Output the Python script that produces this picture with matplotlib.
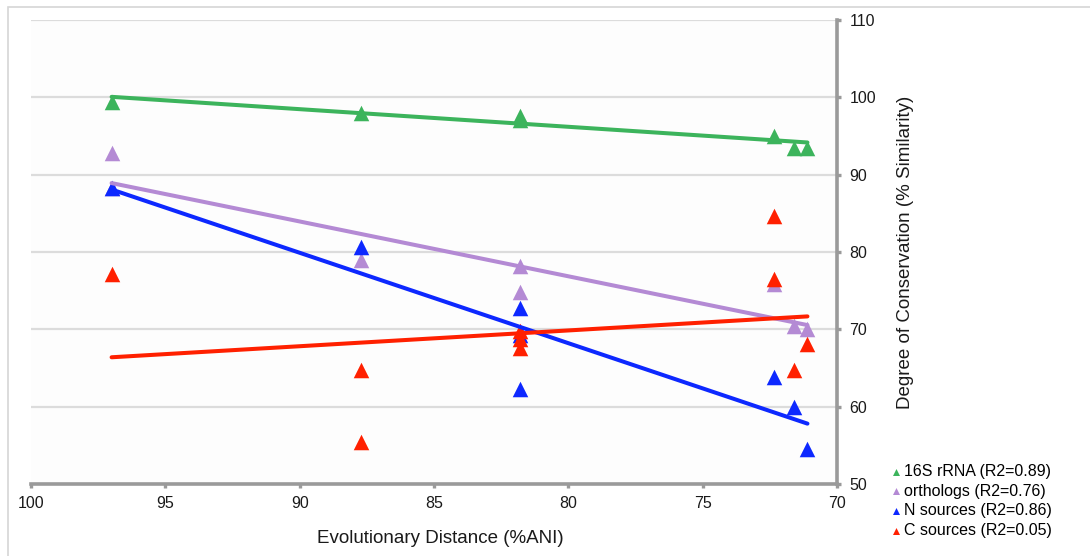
"""
plot.py — conservation vs evolutionary distance (ANI), with linear trendlines.
"""

import numpy as np
import matplotlib
matplotlib.use('Agg')
import matplotlib.pyplot as plt
from matplotlib.patches import Rectangle

plt.rcParams['font.family'] = ['Liberation Sans', 'DejaVu Sans']

# ── DATA ─────────────────────────────────────────────────────────────────────
rrna_x  = [97.0, 87.7, 81.8, 81.8, 72.35, 71.6, 71.1]
rrna_y  = [99.4, 98.0, 97.6, 97.1, 95.0, 93.5, 93.5]

# one ortholog point sits hidden under the blue marker at 97
orth_x  = [97.0, 97.0, 87.7, 81.8, 81.8, 72.35, 71.6, 71.1]
orth_y  = [92.8, 88.3, 79.0, 78.2, 74.8, 75.8, 70.4, 70.0]

nsrc_x  = [97.0, 87.7, 81.8, 81.8, 81.8, 72.35, 71.6, 71.1]
nsrc_y  = [88.3, 80.7, 72.8, 69.3, 62.3, 63.8, 60.0, 54.5]

csrc_x  = [97.0, 87.7, 87.7, 81.8, 81.8, 81.8, 72.35, 72.35, 71.6, 71.1]
csrc_y  = [77.1, 64.8, 55.4, 69.8, 68.7, 67.6, 84.7, 76.5, 64.8, 68.1]

labels  = ['16S rRNA (R2=0.89)', 'orthologs (R2=0.76)',
           'N sources (R2=0.86)', 'C sources (R2=0.05)']

x_ticks = [100, 95, 90, 85, 80, 75, 70]
y_ticks = [50, 60, 70, 80, 90, 100, 110]

# ── STYLE ────────────────────────────────────────────────────────────────────
COLORS = ['#3cb45c', '#b48ad4', '#0d28ff', '#ff2000']
AXIS_GRAY = '#9a9a9a'
GRID_GRAY = '#dcdcdc'

series = [
    (rrna_x, rrna_y),
    (orth_x, orth_y),
    (nsrc_x, nsrc_y),
    (csrc_x, csrc_y),
]

fig = plt.figure(figsize=(10.9, 5.56), dpi=100)
fig.patch.set_facecolor('white')

# light frame round the chart area (runs off right/bottom like the original)
fig.patches.append(Rectangle((8 / 1090, -0.05), 1.2, 1 - 7 / 556 + 0.05,
                             transform=fig.transFigure, fill=False,
                             edgecolor='#d6d6d6', linewidth=1.2))

ax = fig.add_axes([31 / 1090, 1 - 484 / 556, 806 / 1090, 464 / 556])
ax.set_facecolor('#fdfdfd')

# points
handles = []
for (xs, ys), c, lab in zip(series, COLORS, labels):
    h = ax.scatter(xs, ys, marker='^', s=125, color=c, linewidths=0,
                   zorder=3, label=lab)
    handles.append(h)

# linear trendlines across each series' x-range
for (xs, ys), c in zip(series, COLORS):
    xs = np.asarray(xs)
    slope, icpt = np.polyfit(xs, ys, 1)
    xr = np.array([xs.max(), xs.min()])
    ax.plot(xr, slope * xr + icpt, color=c, lw=2.9,
            solid_capstyle='round', zorder=4)

# ── AXES ─────────────────────────────────────────────────────────────────────
ax.set_xlim(100, 70)
ax.set_ylim(50, 110)
ax.set_xticks(x_ticks)
ax.set_yticks(y_ticks)

ax.yaxis.tick_right()
ax.yaxis.set_label_position('right')
for side in ['left', 'top']:
    ax.spines[side].set_visible(False)
for side in ['bottom', 'right']:
    ax.spines[side].set_color(AXIS_GRAY)
    ax.spines[side].set_linewidth(2.6)
    ax.spines[side].set_capstyle('projecting')

ax.tick_params(axis='both', colors=AXIS_GRAY, length=3, width=2.4,
               labelcolor='#1a1a1a', labelsize=11.5)
ax.tick_params(axis='x', pad=6)
ax.tick_params(axis='y', pad=6)

ax.grid(axis='y', color=GRID_GRAY, lw=1.6)
ax.set_axisbelow(True)

ax.set_xlabel('Evolutionary Distance (%ANI)', fontsize=13.5, color='#1a1a1a')
ax.xaxis.set_label_coords(0.508, -0.1)
ax.set_ylabel('Degree of Conservation (% Similarity)', fontsize=13.5,
              color='#1a1a1a', rotation=90)
ax.yaxis.set_label_coords(1.074, 0.5)

leg = fig.legend(handles=handles, loc='center left',
                 bbox_to_anchor=(877 / 1090, 1 - 501 / 556),
                 frameon=False, fontsize=11.5, markerscale=0.45,
                 handletextpad=0.0, handlelength=1.0, labelspacing=0.3,
                 borderpad=0.2)

fig.savefig('out.png', dpi=100, facecolor='white')
